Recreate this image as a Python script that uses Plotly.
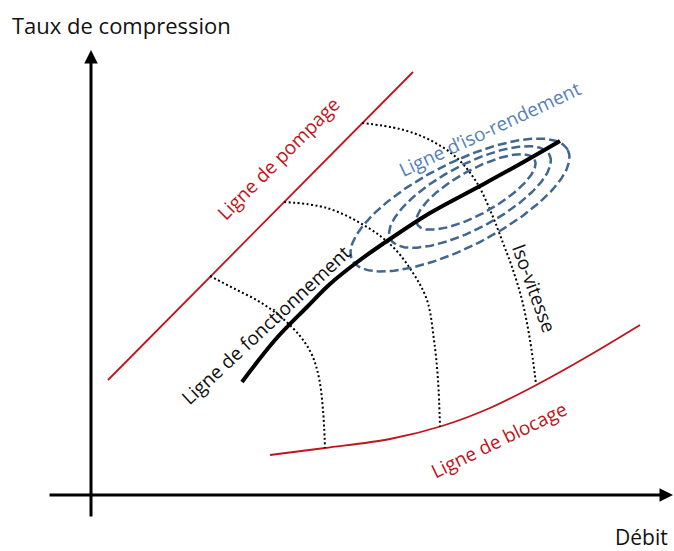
import numpy as np
import plotly.graph_objects as go

# ---------------- data (diagram coordinates, y grows downward) ----------------
# Ligne de pompage (surge line)
pompage_x = [108, 413]
pompage_y = [380, 72]

# Ligne de blocage (choke line)
blocage_x = [270, 325, 390, 442, 490, 540, 590, 640]
blocage_y = [455, 448, 439, 426, 408, 383, 355, 325]

# Ligne de fonctionnement (operating line)
fonct_x = [242, 275, 307, 330, 356, 390, 430, 480, 520, 560]
fonct_y = [382, 340, 307, 284, 263, 239, 213, 186, 164, 141]

# Iso-vitesse curves
iso1_x = [210, 235, 260, 282, 300, 312, 319, 323, 325]
iso1_y = [276, 289, 302, 318, 336, 355, 378, 410, 448]
iso2_x = [284, 327, 367, 393, 413, 427, 434, 438, 440]
iso2_y = [202, 208, 227, 247, 273, 300, 340, 380, 427]
iso3_x = [362, 400, 430, 457, 477, 493, 503, 512, 522, 530, 536]
iso3_y = [123, 129, 140, 158, 183, 217, 243, 267, 300, 340, 384]

# Iso-rendement ellipses: centre x, centre y, semi-major, semi-minor, tilt (deg)
ell_cx = [460, 470, 476]
ell_cy = [205, 197, 192]
ell_a = [121, 90, 67]
ell_b = [42, 32, 22]
ell_tilt = [27, 28, 29]

# Axes (tail -> tip)
yaxis_arrow = [(91, 518), (91, 50)]
xaxis_arrow = [(48, 495), (673, 495)]

# Labels
axis_titles = ["Taux de compression", "Débit"]
labels = ["Ligne de pompage", "Ligne de fonctionnement", "Ligne d’iso-rendement",
          "Iso-vitesse", "Ligne de blocage"]

# ---------------- figure ----------------
RED = "#C0141C"
BLUE_LINE = "#41678F"
BLUE_TEXT = "#5480BC"
FONT = "Open Sans"

fig = go.Figure()

fig.add_trace(go.Scatter(x=pompage_x, y=pompage_y, mode="lines",
                         line=dict(color=RED, width=1.8)))
fig.add_trace(go.Scatter(x=blocage_x, y=blocage_y, mode="lines",
                         line=dict(color=RED, width=1.8, shape="spline")))

for xs, ys in [(iso1_x, iso1_y), (iso2_x, iso2_y), (iso3_x, iso3_y)]:
    fig.add_trace(go.Scatter(x=xs, y=ys, mode="lines",
                             line=dict(color="#000000", width=2, dash="2px,2.5px",
                                       shape="spline")))

t = np.linspace(0, 2 * np.pi, 240)
for cx, cy, a, b, ang in zip(ell_cx, ell_cy, ell_a, ell_b, ell_tilt):
    th = np.deg2rad(ang)
    ex = cx + a * np.cos(t) * np.cos(th) + b * np.sin(t) * np.sin(th)
    ey = cy - a * np.cos(t) * np.sin(th) + b * np.sin(t) * np.cos(th)
    fig.add_trace(go.Scatter(x=ex, y=ey, mode="lines",
                             line=dict(color=BLUE_LINE, width=2.5, dash="9px,4px")))

fig.add_trace(go.Scatter(x=fonct_x, y=fonct_y, mode="lines",
                         line=dict(color="black", width=4, shape="spline")))

annotations = []
for (tx, ty), (hx, hy) in [yaxis_arrow, xaxis_arrow]:
    annotations.append(dict(x=hx, y=hy, ax=tx, ay=ty, xref="x", yref="y",
                            axref="x", ayref="y", text="", showarrow=True,
                            arrowhead=2, arrowwidth=3, arrowsize=0.9,
                            arrowcolor="black"))

annotations.append(dict(x=121, y=25, text=axis_titles[0], showarrow=False,
                        font=dict(family=FONT, size=22, color="#111111")))
annotations.append(dict(x=641, y=537, text=axis_titles[1], showarrow=False,
                        font=dict(family=FONT, size=21, color="#111111")))

label_specs = [
    (labels[0], 278, 159, -45, RED),
    (labels[1], 266, 325, -43, "#111111"),
    (labels[2], 490, 129, -25, BLUE_TEXT),
    (labels[3], 534, 288, 70, "#111111"),
    (labels[4], 499, 440, -26, RED),
]
for txt, x, y, ang, col in label_specs:
    annotations.append(dict(x=x, y=y, text=txt, showarrow=False, textangle=ang,
                            xanchor="center", yanchor="middle",
                            font=dict(family=FONT, size=19, color=col)))

fig.update_layout(
    width=674, height=551,
    margin=dict(l=0, r=0, t=0, b=0),
    paper_bgcolor="white", plot_bgcolor="white",
    showlegend=False,
    xaxis=dict(range=[0, 674], visible=False, fixedrange=True),
    yaxis=dict(range=[551, 0], visible=False, fixedrange=True),
    annotations=annotations,
)

fig.write_html("out.html", config={"displayModeBar": False},
               post_script="document.body.style.margin='0';")
